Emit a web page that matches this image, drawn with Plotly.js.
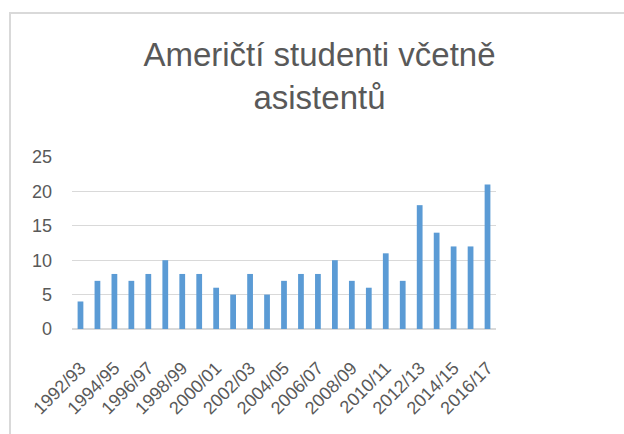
<!DOCTYPE html>
<html>
<head>
<meta charset="utf-8">
<script src="https://cdn.plot.ly/plotly-3.0.1.min.js"></script>
<style>
  html, body { margin: 0; padding: 0; background: #fff; }
  #frame { position: absolute; left: 9px; top: 12px; width: 700px; height: 500px; border: 2px solid #D9D9D9; box-sizing: border-box; }
  #chart { position: absolute; left: 0; top: 0; width: 624px; height: 434px; }
</style>
</head>
<body>
<div id="frame"></div>
<div id="chart"></div>
<script>
const categories = ["1992/93","1993/94","1994/95","1995/96","1996/97","1997/98","1998/99","1999/00","2000/01","2001/02","2002/03","2003/04","2004/05","2005/06","2006/07","2007/08","2008/09","2009/10","2010/11","2011/12","2012/13","2013/14","2014/15","2015/16","2016/17"];
const values = [4,7,8,7,8,10,8,8,6,5,8,5,7,8,8,10,7,6,11,7,18,14,12,12,21];
const tickLabels = categories.filter((c, i) => i % 2 === 0);
const chartTitle = "Američtí studenti včetně<br>asistentů";

const trace = {
  type: 'bar',
  x: categories,
  y: values,
  marker: { color: '#5B9BD5' },
  hoverinfo: 'x+y'
};

const font = "Liberation Sans, Arial, sans-serif";

const layout = {
  width: 624,
  height: 434,
  paper_bgcolor: 'rgba(0,0,0,0)',
  plot_bgcolor: 'rgba(0,0,0,0)',
  margin: { l: 72, r: 128, t: 157, b: 105 },
  bargap: 0.66,
  showlegend: false,
  title: {
    text: chartTitle,
    font: { family: font, size: 33, color: '#595959' },
    x: 0.512,
    xanchor: 'center',
    y: 0.847,
    yanchor: 'top'
  },
  xaxis: {
    type: 'category',
    tickmode: 'array',
    tickvals: tickLabels,
    ticktext: tickLabels,
    tickangle: -45,
    tickfont: { family: font, size: 18, color: '#595959' },
    showgrid: false,
    showline: false,
    zeroline: false,
    ticks: '',
    ticklabelstandoff: 24,
    range: [-0.5, 24.5]
  },
  yaxis: {
    range: [0, 25],
    tickvals: [0, 5, 10, 15, 20, 25],
    tickfont: { family: font, size: 18, color: '#595959' },
    showgrid: true,
    gridcolor: '#D9D9D9',
    gridwidth: 1.3,
    zeroline: true,
    zerolinecolor: '#D9D9D9',
    zerolinewidth: 1.3,
    showline: false,
    ticklabelstandoff: 19,
    fixedrange: true
  }
};

Plotly.newPlot('chart', [trace], layout, { displayModeBar: false, staticPlot: true });
</script>
</body>
</html>
